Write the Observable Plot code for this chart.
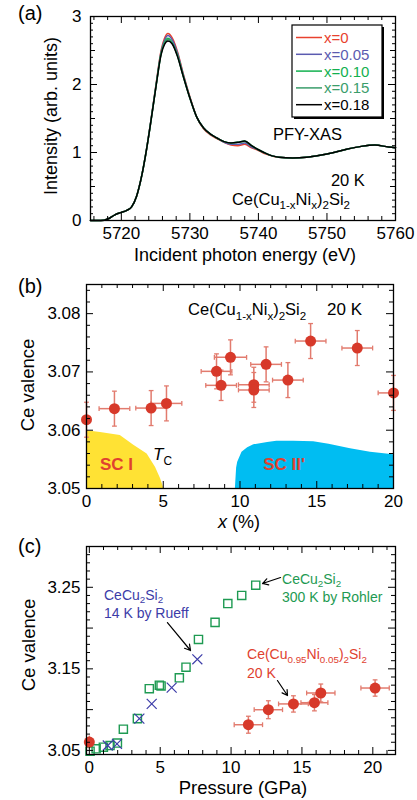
<!DOCTYPE html>
<html><head><meta charset="utf-8">
<script src="https://cdn.jsdelivr.net/npm/d3@7"></script>
<script src="https://cdn.jsdelivr.net/npm/@observablehq/plot@0.6"></script>
<style>
body{margin:0;background:#fff;}
#wrap{position:relative;width:417px;height:800px;overflow:hidden;}
#wrap > svg{position:absolute;left:0;}
</style></head><body><div id="wrap"></div>
<script>
// ================= DATA =================
// Panel (a): PFY-XAS spectra
const energy = [5715.5, 5716.5, 5717.5, 5718.2, 5719, 5720, 5720.8, 5721.5, 5722.2, 5723, 5723.6, 5724.3, 5725.1, 5725.8, 5726.3, 5726.8, 5727.4, 5728.2, 5729, 5730, 5731, 5732, 5733, 5734, 5735, 5736, 5737, 5738, 5739, 5740, 5741, 5742, 5743, 5745, 5747, 5749, 5751, 5753, 5755, 5757, 5759, 5760];
const intX000 = [0, 0, 0.005, 0.03, 0.08, 0.12, 0.15, 0.2, 0.35, 0.67, 1.0, 1.46, 2.03, 2.5, 2.68, 2.75, 2.69, 2.48, 2.17, 1.82, 1.52, 1.35, 1.26, 1.2, 1.15, 1.11, 1.1, 1.12, 1.07, 1.03, 0.98, 0.95, 0.93, 0.92, 0.93, 0.96, 1.0, 1.05, 1.09, 1.11, 1.08, 1.07];
const intX005 = [0, 0, 0.005, 0.03, 0.08, 0.12, 0.15, 0.2, 0.35, 0.67, 1.0, 1.46, 2.02, 2.48, 2.65, 2.72, 2.66, 2.46, 2.16, 1.81, 1.52, 1.36, 1.27, 1.21, 1.15, 1.12, 1.12, 1.14, 1.08, 1.04, 0.99, 0.95, 0.93, 0.92, 0.93, 0.96, 1.0, 1.05, 1.09, 1.11, 1.08, 1.07];
const intX010 = [0, 0, 0.005, 0.03, 0.08, 0.12, 0.15, 0.2, 0.35, 0.67, 1.0, 1.45, 2.01, 2.46, 2.62, 2.68, 2.62, 2.43, 2.14, 1.8, 1.52, 1.36, 1.27, 1.21, 1.16, 1.14, 1.15, 1.17, 1.1, 1.04, 0.99, 0.95, 0.93, 0.92, 0.93, 0.96, 1.0, 1.05, 1.09, 1.11, 1.08, 1.07];
const intX015 = [0, 0, 0.005, 0.03, 0.08, 0.12, 0.15, 0.2, 0.35, 0.67, 1.0, 1.45, 2.0, 2.45, 2.61, 2.66, 2.61, 2.42, 2.13, 1.8, 1.52, 1.36, 1.27, 1.21, 1.16, 1.14, 1.15, 1.16, 1.1, 1.04, 0.99, 0.95, 0.93, 0.92, 0.93, 0.96, 1.0, 1.05, 1.09, 1.11, 1.08, 1.07];
const intX018 = [0, 0, 0.005, 0.03, 0.08, 0.12, 0.15, 0.2, 0.35, 0.67, 1.0, 1.45, 2.0, 2.44, 2.59, 2.64, 2.6, 2.41, 2.13, 1.8, 1.52, 1.36, 1.27, 1.21, 1.16, 1.14, 1.15, 1.17, 1.1, 1.04, 0.99, 0.95, 0.93, 0.92, 0.93, 0.96, 1.0, 1.05, 1.09, 1.11, 1.08, 1.07];
const seriesNames = ["x=0", "x=0.05", "x=0.10", "x=0.15", "x=0.18"];
const seriesColors = ["#e8412e", "#5b5bb0", "#12b04f", "#3a9d6b", "#000000"];
const seriesValues = [intX000, intX005, intX010, intX015, intX018];
const energyTicks = [5720, 5730, 5740, 5750, 5760];
const intensityTicks = [0, 1, 2, 3];

// Panel (b): Ce valence vs Ni content
const niPercent = [0, 1.82, 4.21, 5.21, 8.47, 8.77, 9.38, 10.9, 10.9, 11.7, 13.12, 14.6, 17.64, 20];
const valenceB = [3.0618, 3.0637, 3.0638, 3.0646, 3.0701, 3.0677, 3.0725, 3.0678, 3.0669, 3.0713, 3.0686, 3.0753, 3.0741, 3.0664];
const niErr = [0, 1.0, 1.0, 1.0, 1.0, 1.0, 1.05, 1.0, 1.0, 1.0, 1.0, 1.0, 1.0, 1.0];
const valenceBErr = [0.003, 0.003, 0.003, 0.003, 0.003, 0.0026, 0.003, 0.003, 0.003, 0.003, 0.003, 0.003, 0.003, 0.003];
const scIx = [0, 0.91, 2.2, 3.08, 3.95, 4.5, 4.82, 5.04];
const scIy = [3.0599, 3.0596, 3.0591, 3.0574, 3.0559, 3.0536, 3.0517, 3.05];
const scIIx = [9.7, 9.78, 9.85, 10.13, 10.5, 10.9, 11.8, 12.4, 13.5, 14.8, 15.8, 17.2, 18.5, 20];
const scIIy = [3.05, 3.0535, 3.0545, 3.0562, 3.057, 3.0575, 3.0579, 3.0581, 3.0581, 3.058, 3.0576, 3.0568, 3.0562, 3.0558];
const niTicks = [0, 5, 10, 15, 20];
const valenceBTicks = [3.05, 3.06, 3.07, 3.08];

// Panel (c): Ce valence vs pressure
const rohlerP = [0.05, 0.48, 0.99, 1.46, 1.98, 2.4, 3.39, 4.23, 4.94, 5.06, 6.35, 6.82, 7.7, 8.87, 9.77, 10.75, 11.74];
const rohlerV = [3.049, 3.052, 3.054, 3.056, 3.059, 3.076, 3.089, 3.1257, 3.130, 3.129, 3.139, 3.152, 3.186, 3.207, 3.230, 3.240, 3.2525];
const rueffP = [1.3, 1.95, 3.53, 4.4, 5.81, 7.62];
const rueffV = [3.056, 3.058, 3.089, 3.107, 3.127, 3.1617];
const niAlloyP = [0, 11.22, 12.63, 14.4, 15.88, 16.33, 20.16];
const niAlloyV = [3.0602, 3.0815, 3.0999, 3.107, 3.1085, 3.1204, 3.1265];
const niAlloyPErr = [0, 1.0, 1.0, 1.05, 0.95, 1.0, 1.0];
const niAlloyVErr = [0.008, 0.0104, 0.011, 0.01, 0.01, 0.011, 0.01];
const pressureTicks = [0, 5, 10, 15, 20];
const valenceCTicks = [3.05, 3.15, 3.25];
const arrowsC = [
  {x1: 13.49, y1: 3.262, x2: 12.22, y2: 3.2546},
  {x1: 5.51, y1: 3.2068, x2: 7.14, y2: 3.1725},
  {x1: 13.27, y1: 3.1357, x2: 13.98, y2: 3.1173}
];

// ================= HELPERS =================
const FONT = '"Liberation Sans", Arial, Helvetica, sans-serif';
const RED = "#d7392a", ERR = "#e27b6e", TXTRED = "#e0412f";
const GREEN = "#1e9a52", BLUE = "#3c3ca8";
const wrap = document.getElementById("wrap");

function frameTicks(xs, ys, fw, fh) {
  const st = {stroke: "black", strokeWidth: 1};
  const m = [];
  for (const [vals, len] of xs) {
    m.push(Plot.ruleX(vals, {...st, insetTop: fh - len}));
    m.push(Plot.ruleX(vals, {...st, insetBottom: fh - len}));
  }
  for (const [vals, len] of ys) {
    m.push(Plot.ruleY(vals, {...st, insetRight: fw - len}));
    m.push(Plot.ruleY(vals, {...st, insetLeft: fw - len}));
  }
  return m;
}
function minors(start, stop, step, majors) {
  const n = Math.round((stop - start) / step);
  const out = [];
  for (let i = 0; i <= n; i++) {
    const v = +(start + i * step).toFixed(6);
    if (!majors.some(mj => Math.abs(mj - v) < step / 10)) out.push(v);
  }
  return out;
}
function addText(svg, x, y, parts, o = {}) {
  const size = o.size || 17;
  const subShift = o.subShift == null ? 0.3 : o.subShift;
  const t = d3.select(svg).append("text")
    .attr("x", x).attr("y", y)
    .attr("font-family", FONT).attr("font-size", size)
    .attr("fill", o.color || "black")
    .attr("text-anchor", o.anchor || "start");
  if (o.weight) t.attr("font-weight", o.weight);
  if (o.rotate) t.attr("transform", `rotate(${o.rotate},${x},${y})`);
  let shift = 0;
  const arr = typeof parts === "string" ? [[parts]] : parts;
  for (const [s, kind] of arr) {
    const target = kind === "sub" ? subShift * size : 0;
    const ts = t.append("tspan").text(s).attr("dy", target - shift);
    shift = target;
    if (kind === "sub") ts.attr("font-size", size * 0.7);
    if (kind === "i") ts.attr("font-style", "italic");
  }
  return t;
}
const capH = {draw(ctx) { ctx.moveTo(-2.4, 0); ctx.lineTo(2.4, 0); }};
const capV = {draw(ctx) { ctx.moveTo(0, -2.4); ctx.lineTo(0, 2.4); }};
const baseStyle = {fontFamily: FONT, fontSize: "17px", color: "black", background: "white", overflow: "visible"};

// ================= PANEL (a) =================
const A = {w: 417, h: 268, mt: 16, mb: 48, ml: 90, mr: 22};
const fwA = A.w - A.ml - A.mr, fhA = A.h - A.mt - A.mb;
const xDomA = [5715.5, 5760], yDomA = [0, 3];
const chartA = Plot.plot({
  width: A.w, height: A.h, marginTop: A.mt, marginBottom: A.mb, marginLeft: A.ml, marginRight: A.mr,
  style: baseStyle,
  x: {domain: xDomA, ticks: energyTicks, tickSize: 0, tickPadding: 6, tickFormat: d3.format("d"), label: null},
  y: {domain: yDomA, ticks: intensityTicks, tickSize: 0, tickPadding: 9, tickFormat: d3.format("d"), label: null},
  marks: [
    ...seriesValues.map((vals, k) => Plot.line(energy.map((e, i) => ({e, v: vals[i]})),
      {x: "e", y: "v", stroke: seriesColors[k], strokeWidth: 1.5, curve: "monotone-x"})),
    ...frameTicks(
      [[energyTicks, 7], [minors(5716, 5760, 2, energyTicks), 4]],
      [[intensityTicks, 7], [[0.5, 1.5, 2.5], 5], [minors(0, 3, 0.1, [0, 0.5, 1, 1.5, 2, 2.5, 3]), 3]],
      fwA, fhA),
    Plot.frame({stroke: "black", strokeWidth: 1.3})
  ]
});
chartA.style.top = "0px";
wrap.appendChild(chartA);
{
  const sx = d3.scaleLinear(xDomA, [A.ml, A.w - A.mr]);
  const sy = d3.scaleLinear(yDomA, [A.h - A.mb, A.mt]);
  addText(chartA, 18, 20, "(a)", {size: 20});
  addText(chartA, 57, A.mt + fhA / 2 - 2, "Intensity (arb. units)", {size: 18, anchor: "middle", rotate: -90});
  addText(chartA, 245, 261, "Incident photon energy (eV)", {size: 18, anchor: "middle"});
  addText(chartA, sx(5742.2), sy(1.18), "PFY-XAS", {size: 16.5});
  addText(chartA, sx(5755.6), sy(0.5), "20 K", {size: 16.5, anchor: "end"});
  addText(chartA, sx(5736.2), sy(0.22), [["Ce(Cu"], ["1-x", "sub"], ["Ni"], ["x", "sub"], [")"], ["2", "sub"], ["Si"], ["2", "sub"]], {size: 16.5, subShift: 0.25});
  // legend
  const g = d3.select(chartA).append("g");
  const bx = 292, by = 25, bw = 90, bh = 92;
  g.append("rect").attr("x", bx + 2).attr("y", by + 2).attr("width", bw).attr("height", bh).attr("fill", "black");
  g.append("rect").attr("x", bx).attr("y", by).attr("width", bw).attr("height", bh).attr("fill", "white").attr("stroke", "black").attr("stroke-width", 1.2);
  seriesNames.forEach((name, k) => {
    const cy = 37.5 + k * 16.8;
    g.append("line").attr("x1", 296).attr("x2", 322).attr("y1", cy).attr("y2", cy).attr("stroke", seriesColors[k]).attr("stroke-width", 1.5);
    addText(chartA, 324, cy + 5.4, name, {size: 15, color: seriesColors[k]});
  });
}

// ================= PANEL (b) =================
const B = {w: 417, h: 266, mt: 16, mb: 46, ml: 86, mr: 24};
const fwB = B.w - B.ml - B.mr, fhB = B.h - B.mt - B.mb;
const xDomB = [0, 20], yDomB = [3.05, 3.085];
const ptsB = niPercent.map((x, i) => ({x, y: valenceB[i], xe: niErr[i], ye: valenceBErr[i]}));
const ptsBx = ptsB.filter(d => d.xe > 0);
const scIrows = scIx.map((x, i) => ({x, top: scIy[i]}));
const scIIrows = scIIx.map((x, i) => ({x, top: scIIy[i]}));
const chartB = Plot.plot({
  width: B.w, height: B.h, marginTop: B.mt, marginBottom: B.mb, marginLeft: B.ml, marginRight: B.mr,
  style: baseStyle,
  x: {domain: xDomB, ticks: niTicks, tickSize: 0, tickPadding: 6, label: null},
  y: {domain: yDomB, ticks: valenceBTicks, tickSize: 0, tickPadding: 6, tickFormat: d3.format(".2f"), label: null},
  marks: [
    Plot.areaY(scIrows, {x: "x", y1: () => yDomB[0], y2: "top", fill: "#ffe234"}),
    Plot.areaY(scIIrows, {x: "x", y1: () => yDomB[0], y2: "top", fill: "#00bdf2"}),
    Plot.link(ptsBx, {x1: d => d.x - d.xe, x2: d => d.x + d.xe, y1: "y", y2: "y", stroke: ERR, strokeWidth: 1.5, clip: true}),
    Plot.link(ptsB, {x1: "x", x2: "x", y1: d => d.y - d.ye, y2: d => d.y + d.ye, stroke: ERR, strokeWidth: 1.5}),
    Plot.dot(ptsBx, {x: d => d.x - d.xe, y: "y", symbol: capV, stroke: ERR, fill: "none", strokeWidth: 1.3}),
    Plot.dot(ptsBx.filter(d => d.x + d.xe <= 20), {x: d => d.x + d.xe, y: "y", symbol: capV, stroke: ERR, fill: "none", strokeWidth: 1.3}),
    Plot.dot(ptsB, {x: "x", y: d => d.y - d.ye, symbol: capH, stroke: ERR, fill: "none", strokeWidth: 1.3}),
    Plot.dot(ptsB, {x: "x", y: d => d.y + d.ye, symbol: capH, stroke: ERR, fill: "none", strokeWidth: 1.3}),
    Plot.dot(ptsB, {x: "x", y: "y", r: 5.5, fill: RED}),
    ...frameTicks(
      [[niTicks, 7], [minors(0, 20, 1, niTicks), 4]],
      [[valenceBTicks, 7], [minors(3.05, 3.084, 0.002, valenceBTicks), 4]],
      fwB, fhB),
    Plot.frame({stroke: "black", strokeWidth: 1.3})
  ]
});
chartB.style.top = "268px";
wrap.appendChild(chartB);
{
  const sx = d3.scaleLinear(xDomB, [B.ml, B.w - B.mr]);
  const sy = d3.scaleLinear(yDomB, [B.h - B.mb, B.mt]);
  addText(chartB, 18, 25, "(b)", {size: 20});
  addText(chartB, 34, 117, "Ce valence", {size: 18.5, anchor: "middle", rotate: -90});
  addText(chartB, 239, 260, [["x", "i"], [" (%)"]], {size: 18, anchor: "middle"});
  addText(chartB, sx(6.65), sy(3.0796), [["Ce(Cu"], ["1-x", "sub"], ["Ni"], ["x", "sub"], [")"], ["2", "sub"], ["Si"], ["2", "sub"]], {size: 16.5, subShift: 0.25});
  addText(chartB, sx(17.98), sy(3.0796), "20 K", {size: 17, anchor: "end"});
  addText(chartB, sx(0.91), sy(3.0531), "SC I", {size: 17, weight: "bold", color: TXTRED});
  addText(chartB, sx(11.55), sy(3.0531), "SC II'", {size: 17, weight: "bold", color: TXTRED});
  addText(chartB, sx(4.37), sy(3.0548), [["T", "i"], ["C", "sub"]], {size: 17});
}

// ================= PANEL (c) =================
const C = {w: 417, h: 266, mt: 12, mb: 46, ml: 86, mr: 22};
const fwC = C.w - C.ml - C.mr, fhC = C.h - C.mt - C.mb;
const xDomC = [-0.2, 21.6], yDomC = [3.045, 3.30];
const rohler = rohlerP.map((p, i) => ({p, v: rohlerV[i]}));
const rueff = rueffP.map((p, i) => ({p, v: rueffV[i]}));
const ptsC = niAlloyP.map((p, i) => ({p, v: niAlloyV[i], pe: niAlloyPErr[i], ve: niAlloyVErr[i]}));
const ptsCx = ptsC.filter(d => d.pe > 0);
const chartC = Plot.plot({
  width: C.w, height: C.h, marginTop: C.mt, marginBottom: C.mb, marginLeft: C.ml, marginRight: C.mr,
  style: baseStyle,
  x: {domain: xDomC, ticks: pressureTicks, tickSize: 0, tickPadding: 6, label: null},
  y: {domain: yDomC, ticks: valenceCTicks, tickSize: 0, tickPadding: 6, tickFormat: d3.format(".2f"), label: null},
  marks: [
    Plot.dot(rohler, {x: "p", y: "v", symbol: "square", r: 4.6, stroke: GREEN, fill: "none", strokeWidth: 1.4}),
    Plot.dot(rueff, {x: "p", y: "v", symbol: "times", r: 4.6, stroke: BLUE, strokeWidth: 1.2}),
    Plot.link(ptsCx, {x1: d => d.p - d.pe, x2: d => d.p + d.pe, y1: "v", y2: "v", stroke: ERR, strokeWidth: 1.5}),
    Plot.link(ptsC, {x1: "p", x2: "p", y1: d => d.v - d.ve, y2: d => d.v + d.ve, stroke: ERR, strokeWidth: 1.5}),
    Plot.dot(ptsCx, {x: d => d.p - d.pe, y: "v", symbol: capV, stroke: ERR, fill: "none", strokeWidth: 1.3}),
    Plot.dot(ptsCx, {x: d => d.p + d.pe, y: "v", symbol: capV, stroke: ERR, fill: "none", strokeWidth: 1.3}),
    Plot.dot(ptsCx, {x: "p", y: d => d.v - d.ve, symbol: capH, stroke: ERR, fill: "none", strokeWidth: 1.3}),
    Plot.dot(ptsCx, {x: "p", y: d => d.v + d.ve, symbol: capH, stroke: ERR, fill: "none", strokeWidth: 1.3}),
    Plot.dot(ptsC, {x: "p", y: "v", r: 5.5, fill: RED}),
    Plot.arrow(arrowsC, {x1: "x1", y1: "y1", x2: "x2", y2: "y2", stroke: "black", strokeWidth: 1.2, headLength: 8}),
    ...frameTicks(
      [[pressureTicks, 7], [minors(0, 21, 1, pressureTicks), 4]],
      [[[3.05, 3.10, 3.15, 3.20, 3.25, 3.30], 7], [minors(3.05, 3.29, 0.01, [3.05, 3.10, 3.15, 3.20, 3.25, 3.30]), 4]],
      fwC, fhC),
    Plot.frame({stroke: "black", strokeWidth: 1.3})
  ]
});
chartC.style.top = "534px";
wrap.appendChild(chartC);
{
  const sx = d3.scaleLinear(xDomC, [C.ml, C.w - C.mr]);
  const sy = d3.scaleLinear(yDomC, [C.h - C.mb, C.mt]);
  const L = 18.5; // line spacing in px for two-line annotations
  const two = (x, yBase, first, second, color) => {
    addText(chartC, sx(x), sy(yBase) - L, first, {size: 14, color, subShift: 0.22});
    addText(chartC, sx(x), sy(yBase), second, {size: 14, color});
  };
  addText(chartC, 18, 19, "(c)", {size: 20});
  addText(chartC, 35, 111, "Ce valence", {size: 18.5, anchor: "middle", rotate: -90});
  addText(chartC, 243, 260, "Pressure (GPa)", {size: 18.5, anchor: "middle"});
  two(13.63, 3.2313, [["CeCu"], ["2", "sub"], ["Si"], ["2", "sub"]], "300 K by Rohler", GREEN);
  two(1.07, 3.2117, [["CeCu"], ["2", "sub"], ["Si"], ["2", "sub"]], "14 K by Rueff", BLUE);
  two(11.16, 3.1382, [["Ce(Cu"], ["0.95", "sub"], ["Ni"], ["0.05", "sub"], [")"], ["2", "sub"], ["Si"], ["2", "sub"]], "20 K", TXTRED);
}
</script></body></html>
